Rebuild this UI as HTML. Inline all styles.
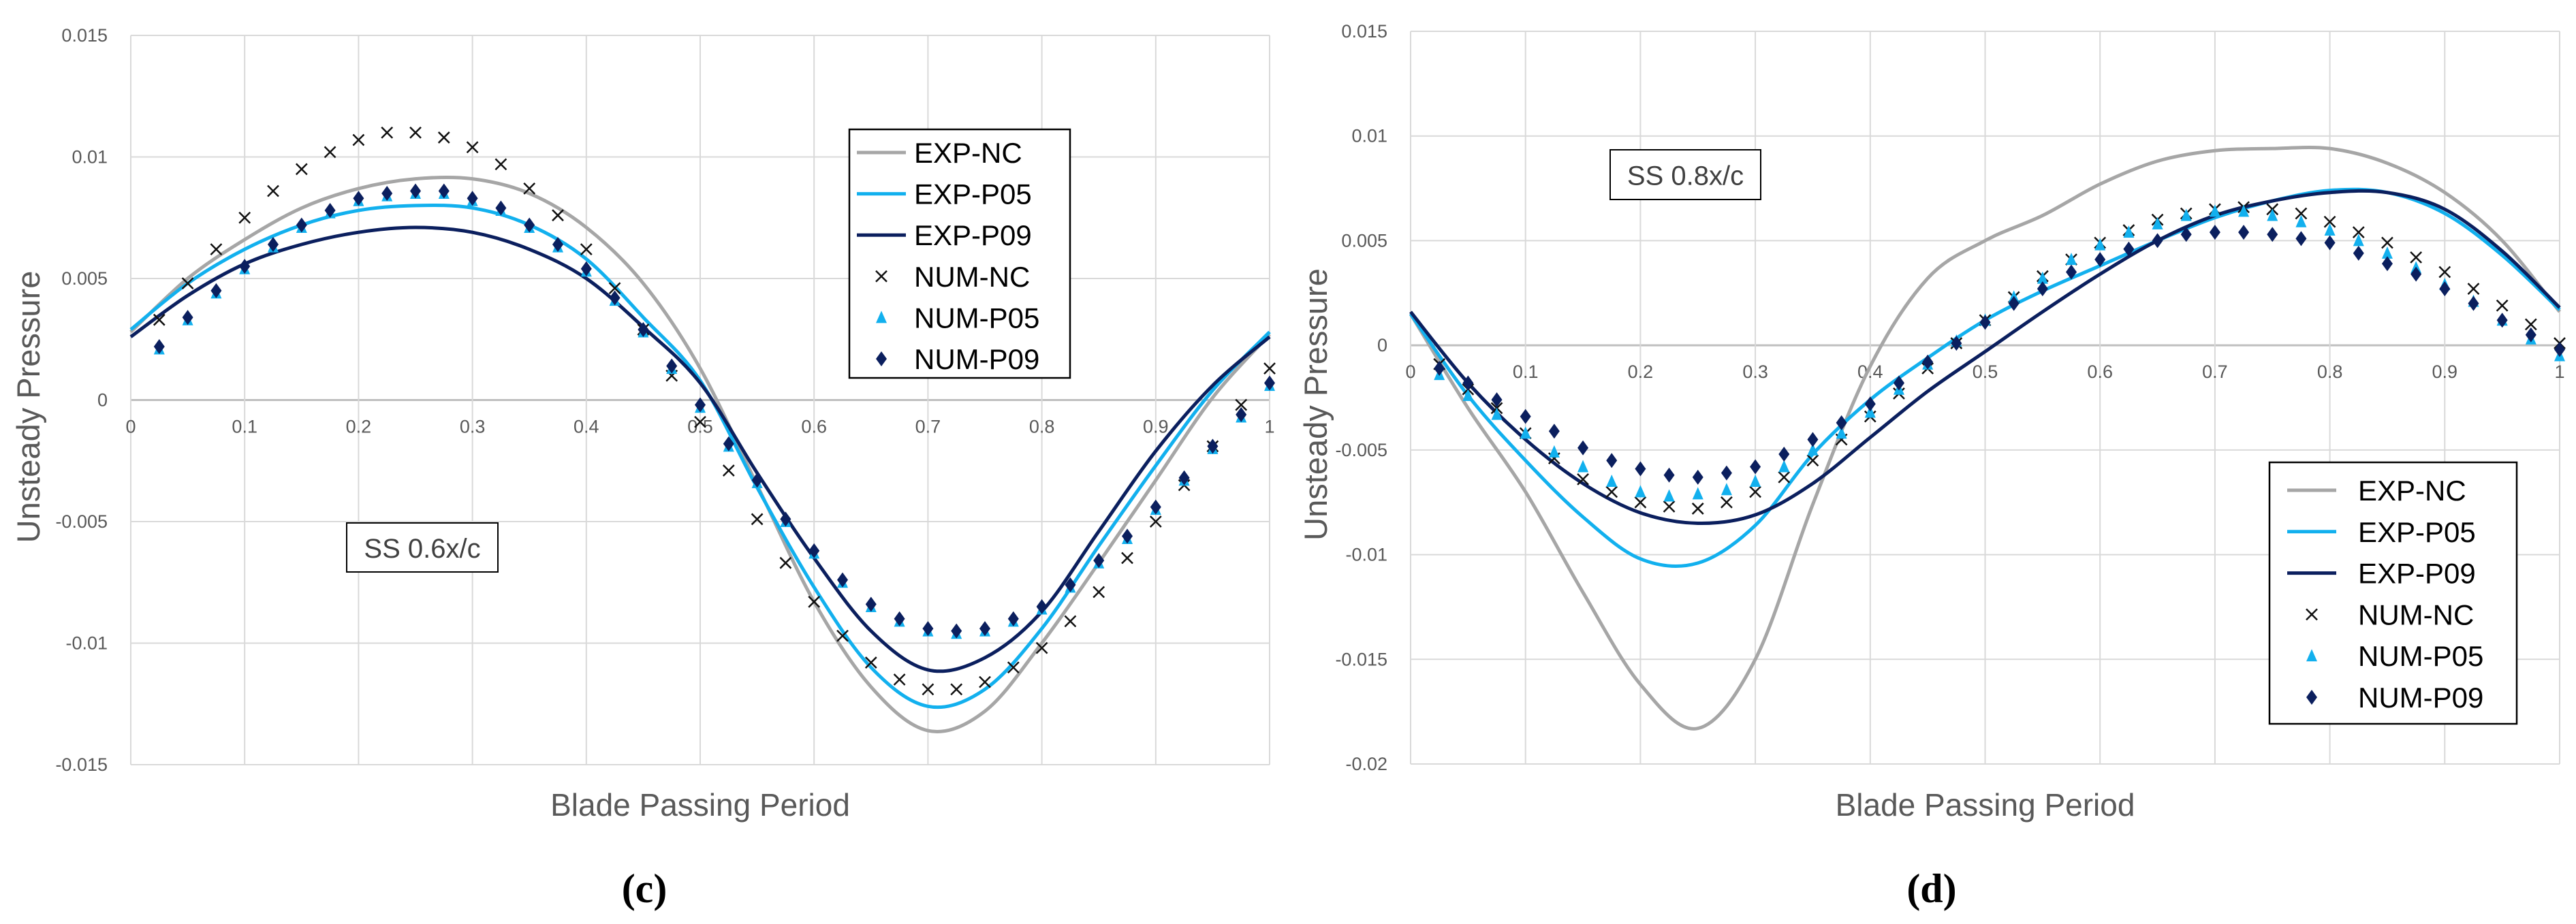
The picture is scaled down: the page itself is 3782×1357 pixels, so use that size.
<!DOCTYPE html>
<html><head><meta charset="utf-8"><style>
html,body{margin:0;padding:0;background:#fff;}
svg{display:block;}
text{font-family:"Liberation Sans Narrow","Liberation Sans",sans-serif;}
</style></head><body>
<svg id="svg" width="3782" height="1357" viewBox="0 0 3782 1357" xmlns="http://www.w3.org/2000/svg"></svg>
<script>
const xTicks=[0,0.1,0.2,0.3,0.4,0.5,0.6,0.7,0.8,0.9,1];
const xTickLabels=["0","0.1","0.2","0.3","0.4","0.5","0.6","0.7","0.8","0.9","1"];
const yTicksC=[0.015,0.01,0.005,0,-0.005,-0.01,-0.015];
const yTickLabelsC=["0.015","0.01","0.005","0","-0.005","-0.01","-0.015"];
const yTicksD=[0.015,0.01,0.005,0,-0.005,-0.01,-0.015,-0.02];
const yTickLabelsD=["0.015","0.01","0.005","0","-0.005","-0.01","-0.015","-0.02"];
const expX=[0,0.05,0.1,0.15,0.2,0.25,0.3,0.35,0.4,0.45,0.5,0.55,0.6,0.65,0.7,0.75,0.8,0.85,0.9,0.95,1];
const cExpNC=[0.0028,0.0050,0.0066,0.0079,0.0087,0.0091,0.0091,0.0085,0.0071,0.0048,0.0013,-0.0035,-0.0083,-0.0118,-0.0136,-0.0128,-0.0100,-0.0067,-0.0033,0.0001,0.0027];
const cExpP05=[0.0029,0.0048,0.0062,0.0072,0.0078,0.0080,0.0079,0.0072,0.0058,0.0034,0.0008,-0.0036,-0.0077,-0.0110,-0.0126,-0.0119,-0.0094,-0.0060,-0.0027,0.0004,0.0028];
const cExpP09=[0.0026,0.0043,0.0056,0.0064,0.0069,0.0071,0.0069,0.0062,0.0050,0.0030,0.0007,-0.0030,-0.0065,-0.0095,-0.0111,-0.0106,-0.0087,-0.0054,-0.0021,0.0006,0.0026];
const numX=[0.025,0.05,0.075,0.1,0.125,0.15,0.175,0.2,0.225,0.25,0.275,0.3,0.325,0.35,0.375,0.4,0.425,0.45,0.475,0.5,0.525,0.55,0.575,0.6,0.625,0.65,0.675,0.7,0.725,0.75,0.775,0.8,0.825,0.85,0.875,0.9,0.925,0.95,0.975,1];
const cNumNC=[0.0033,0.0048,0.0062,0.0075,0.0086,0.0095,0.0102,0.0107,0.0110,0.0110,0.0108,0.0104,0.0097,0.0087,0.0076,0.0062,0.0046,0.0029,0.0010,-0.0009,-0.0029,-0.0049,-0.0067,-0.0083,-0.0097,-0.0108,-0.0115,-0.0119,-0.0119,-0.0116,-0.0110,-0.0102,-0.0091,-0.0079,-0.0065,-0.0050,-0.0035,-0.0019,-0.0002,0.0013];
const cNumP05=[0.0021,0.0033,0.0044,0.0054,0.0063,0.0071,0.0077,0.0082,0.0084,0.0085,0.0085,0.0082,0.0078,0.0071,0.0063,0.0053,0.0041,0.0028,0.0013,-0.0003,-0.0019,-0.0034,-0.0050,-0.0063,-0.0075,-0.0085,-0.0091,-0.0095,-0.0096,-0.0095,-0.0091,-0.0086,-0.0077,-0.0067,-0.0057,-0.0045,-0.0033,-0.0020,-0.0007,0.0006];
const cNumP09=[0.0022,0.0034,0.0045,0.0055,0.0064,0.0072,0.0078,0.0083,0.0085,0.0086,0.0086,0.0083,0.0079,0.0072,0.0064,0.0054,0.0042,0.0029,0.0014,-0.0002,-0.0018,-0.0033,-0.0049,-0.0062,-0.0074,-0.0084,-0.0090,-0.0094,-0.0095,-0.0094,-0.0090,-0.0085,-0.0076,-0.0066,-0.0056,-0.0044,-0.0032,-0.0019,-0.0006,0.0007];
const dExpX=[0,0.05,0.1,0.15,0.2,0.25,0.3,0.35,0.4,0.45,0.5,0.55,0.6,0.65,0.7,0.75,0.8,0.85,0.9,0.95,1];
const dExpNC=[0.0015,-0.0030,-0.0070,-0.0118,-0.0162,-0.0183,-0.0150,-0.0076,-0.0010,0.0032,0.0050,0.0062,0.0077,0.0088,0.0093,0.0094,0.0094,0.0087,0.0073,0.0050,0.0016];
const dExpP05=[0.0015,-0.0024,-0.0055,-0.0082,-0.0102,-0.0104,-0.0086,-0.0052,-0.0026,-0.0006,0.0012,0.0026,0.0038,0.0050,0.0061,0.0069,0.0074,0.0073,0.0063,0.0043,0.0017];
const dExpP09=[0.0016,-0.0018,-0.0045,-0.0066,-0.0080,-0.0085,-0.0081,-0.0066,-0.0044,-0.0022,-0.0003,0.0016,0.0034,0.0050,0.0062,0.0069,0.0073,0.0073,0.0065,0.0045,0.0018];
const dNumNC=[-0.0009,-0.0021,-0.0030,-0.0042,-0.0054,-0.0064,-0.0070,-0.0075,-0.0077,-0.0078,-0.0075,-0.0070,-0.0063,-0.0055,-0.0045,-0.0034,-0.0023,-0.0011,0.0001,0.0012,0.0023,0.0033,0.0041,0.0049,0.0055,0.0060,0.0063,0.0065,0.0066,0.0065,0.0063,0.0059,0.0054,0.0049,0.0042,0.0035,0.0027,0.0019,0.0010,0.0001];
const dNumP05=[-0.0014,-0.0024,-0.0033,-0.0042,-0.0051,-0.0058,-0.0065,-0.0070,-0.0072,-0.0071,-0.0069,-0.0065,-0.0058,-0.0050,-0.0042,-0.0032,-0.0021,-0.0009,0.0002,0.0012,0.0023,0.0032,0.0041,0.0048,0.0054,0.0058,0.0062,0.0064,0.0064,0.0062,0.0059,0.0055,0.0050,0.0044,0.0037,0.0029,0.0021,0.0012,0.0003,-0.0005];
const dNumP09=[-0.0011,-0.0018,-0.0026,-0.0034,-0.0041,-0.0049,-0.0055,-0.0059,-0.0062,-0.0063,-0.0061,-0.0058,-0.0052,-0.0045,-0.0037,-0.0028,-0.0018,-0.0008,0.0001,0.0011,0.0020,0.0027,0.0035,0.0041,0.0046,0.0050,0.0053,0.0054,0.0054,0.0053,0.0051,0.0049,0.0044,0.0039,0.0034,0.0027,0.0020,0.0012,0.0005,-0.0002];

const NS="http://www.w3.org/2000/svg";
const svg=document.getElementById('svg');
function mk(tag,attrs,parent,txt){const e=document.createElementNS(NS,tag);for(const k in attrs)e.setAttribute(k,attrs[k]);if(txt!==undefined)e.textContent=txt;(parent||svg).appendChild(e);return e;}
const GREY="#a6a6a6",BLUE="#12b0ee",NAVY="#0b1f5e";
function smooth(pts){let d="M"+pts[0][0]+","+pts[0][1];for(let i=0;i<pts.length-1;i++){const p0=pts[Math.max(0,i-1)],p1=pts[i],p2=pts[i+1],p3=pts[Math.min(pts.length-1,i+2)];const c1x=p1[0]+(p2[0]-p0[0])/6,c1y=p1[1]+(p2[1]-p0[1])/6,c2x=p2[0]-(p3[0]-p1[0])/6,c2y=p2[1]-(p3[1]-p1[1])/6;d+=" C"+c1x+","+c1y+" "+c2x+","+c2y+" "+p2[0]+","+p2[1];}return d;}
function marker(g,type,x,y){
  if(type==='x'){const s=8;const p=mk('path',{d:`M${x-s},${y-s}L${x+s},${y+s}M${x-s},${y+s}L${x+s},${y-s}`,stroke:'#111',"stroke-width":2.5,fill:'none'},g);}
  else if(type==='tri'){const p=mk('polygon',{points:`${x},${y-10} ${x+8},${y+8} ${x-8},${y+8}`,fill:BLUE},g);}
  else{const p=mk('polygon',{points:`${x},${y-11} ${x+8},${y} ${x},${y+11} ${x-8},${y}`,fill:NAVY},g);}
}
function chart(cfg){
  const g=mk('g',{});
  const sx=v=>cfg.x0+(cfg.x1-cfg.x0)*v;
  const sy=v=>cfg.yTop+(cfg.ymax-v)/(cfg.ymax-cfg.ymin)*(cfg.yBot-cfg.yTop);
  const grid=mk('g',{},g);
  cfg.yt.forEach((v,i)=>{mk('line',{x1:cfg.x0,x2:cfg.x1,y1:sy(v),y2:sy(v),stroke:v===0?'#bfbfbf':'#d9d9d9',"stroke-width":v===0?3:2},grid);
    const t=mk('text',{x:cfg.x0-34,y:sy(v)+9,"text-anchor":"end","font-size":27,fill:'#595959'},g,cfg.ytl[i]);});
  xTicks.forEach((v,i)=>{mk('line',{x1:sx(v),x2:sx(v),y1:cfg.yTop,y2:cfg.yBot,stroke:'#d9d9d9',"stroke-width":2},grid);
    const t=mk('text',{x:sx(v),y:sy(0)+48,"text-anchor":"middle","font-size":27,fill:'#595959'},g,xTickLabels[i]);});
  const lines=[[cfg.nc,GREY,'exp-nc-line'],[cfg.p05,BLUE,'exp-p05-line'],[cfg.p09,NAVY,'exp-p09-line']];
  lines.forEach(l=>{const p=mk('path',{d:smooth(cfg.ex.map((x,i)=>[sx(x),sy(l[0][i])])),stroke:l[1],"stroke-width":5,fill:'none'},g);});
  numX.forEach((x,i)=>marker(g,'x',sx(x),sy(cfg.nnc[i])));
  numX.forEach((x,i)=>marker(g,'tri',sx(x),sy(cfg.n05[i])));
  numX.forEach((x,i)=>marker(g,'dia',sx(x),sy(cfg.n09[i])));
  const yt=mk('text',{x:0,y:0,transform:`translate(${cfg.ytx},${(cfg.yTop+cfg.yBot)/2+10}) rotate(-90)`,"text-anchor":"middle","font-size":47,fill:'#595959',style:'font-family:"Liberation Sans",sans-serif'},g,'Unsteady Pressure');
  const xt=mk('text',{x:(cfg.x0+cfg.x1)/2,y:1198,"text-anchor":"middle","font-size":46,fill:'#595959'},g,'Blade Passing Period');
  const cap=mk('text',{x:cfg.capx,y:1325,"text-anchor":"middle","font-size":60,"font-weight":"bold",fill:'#000',style:'font-family:"Liberation Serif",serif'},g,cfg.cap);
  const a=cfg.ann;const ab=mk('g',{},g);
  mk('rect',{x:a[0],y:a[1],width:a[2],height:a[3],fill:'#fff',stroke:'#000',"stroke-width":2},ab);
  mk('text',{x:a[0]+a[2]/2,y:a[1]+a[3]/2+15,"text-anchor":"middle","font-size":40,fill:'#404040'},ab,a[4]);
  const L=cfg.leg;const lg=mk('g',{},g);
  mk('rect',{x:L[0],y:L[1],width:L[2],height:L[3],fill:'#fff',stroke:'#000',"stroke-width":2.5},lg);
  const names=['EXP-NC','EXP-P05','EXP-P09','NUM-NC','NUM-P05','NUM-P09'];
  names.forEach((n,i)=>{const ey=L[4]+i*L[5];const e=mk('g',{},lg);
    if(i<3)mk('line',{x1:L[6],x2:L[6]+72,y1:ey,y2:ey,stroke:[GREY,BLUE,NAVY][i],"stroke-width":5},e);
    else marker(e,['x','tri','dia'][i-3],L[6]+36,ey);
    mk('text',{x:L[7],y:ey+15,"font-size":42,fill:'#000'},e,n);});
}
chart({name:'chart-c',x0:192,x1:1864,yTop:52,yBot:1123,ymax:0.015,ymin:-0.015,yt:yTicksC,ytl:yTickLabelsC,ex:expX,nc:cExpNC,p05:cExpP05,p09:cExpP09,nnc:cNumNC,n05:cNumP05,n09:cNumP09,ytx:58,capx:946,cap:'(c)',ann:[509,768,222,72,'SS 0.6x/c'],leg:[1247,190,324,365,224,60.6,1258,1342]});
chart({name:'chart-d',x0:2071,x1:3758,yTop:46,yBot:1122,ymax:0.015,ymin:-0.02,yt:yTicksD,ytl:yTickLabelsD,ex:dExpX,nc:dExpNC,p05:dExpP05,p09:dExpP09,nnc:dNumNC,n05:dNumP05,n09:dNumP09,ytx:1948,capx:2836,cap:'(d)',ann:[2364,220,221,73,'SS 0.8x/c'],leg:[3332,679,363,384,720,60.8,3358,3462]});
</script>
</body></html>
